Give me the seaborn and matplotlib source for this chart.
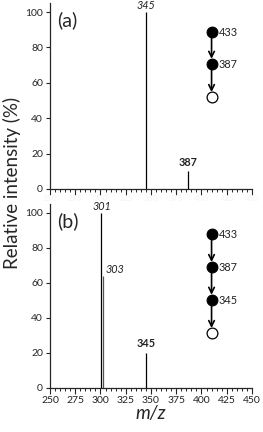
import matplotlib
matplotlib.use("Agg")
import matplotlib.pyplot as plt
import seaborn as sns
import numpy as np
import pandas as pd
from matplotlib.ticker import MultipleLocator

# ---- data ----
mz_a = [345, 387]
int_a = [100, 10]
lab_a = ["345", "387"]
style_a = ["italic", "bold"]

mz_b = [301, 303, 345]
int_b = [100, 64, 20]
lab_b = ["301", "303", "345"]
style_b = ["italic", "italic", "bold"]

tree_a_y = [88.7, 70.6, 51.8]
tree_a_fill = [True, True, False]
tree_a_lab = ["433", "387", ""]

tree_b_y = [87.7, 68.8, 50.1, 31.1]
tree_b_fill = [True, True, True, False]
tree_b_lab = ["433", "387", "345", ""]

tree_x = 410
xticks = [250, 275, 300, 325, 350, 375, 400, 425, 450]
yticks = [0, 20, 40, 60, 80, 100]

sns.set_style("ticks")
plt.rcParams['font.family'] = ['Lato', 'DejaVu Sans']

fig = plt.figure(figsize=(2.63, 4.32), dpi=100)
ax1 = fig.add_axes([0.190, 0.5625, 0.768, 0.430])
ax2 = fig.add_axes([0.190, 0.1025, 0.768, 0.4255])


def draw(ax, mz, inten, labs, styles, ty, tfill, tlab, panel, xlab_color, peak_colors):
    ax.vlines(mz, 0, inten, colors=peak_colors, linewidth=0.9)
    for m, v, l, s in zip(mz, inten, labs, styles):
        kw = dict(fontsize=7.8, va='bottom', color='#222222')
        if l == "303":
            ax.text(m + 1.5, v + 0.5, l, ha='left', fontstyle='italic', **kw)
        elif s == 'bold':
            ax.text(m, v + 2, l, ha='center', fontweight='bold', **kw)
        else:
            ax.text(m, v + 0.5, l, ha='center', fontstyle='italic', **kw)
    df = pd.DataFrame({"x": [tree_x] * len(ty), "y": ty, "fill": tfill})
    for i in range(len(ty) - 1):
        ax.annotate("", xy=(tree_x, ty[i + 1] + 3.0), xytext=(tree_x, ty[i] - 3.0),
                    arrowprops=dict(arrowstyle='->', color='black', lw=1.2,
                                    mutation_scale=10, shrinkA=0, shrinkB=0))
    sns.scatterplot(data=df[df["fill"]], x="x", y="y", ax=ax, s=60, color='black',
                    edgecolor='black', linewidth=0.8, legend=False, zorder=3)
    sns.scatterplot(data=df[~df["fill"]], x="x", y="y", ax=ax, s=60, color='white',
                    edgecolor='black', linewidth=0.9, legend=False, zorder=3)
    for y, l in zip(ty, tlab):
        if l:
            ax.text(tree_x + 7, y, l, fontsize=7.8, va='center', ha='left', color='#222222')
    ax.text(0.035, 0.955, panel, transform=ax.transAxes, fontsize=14, va='top', ha='left')
    ax.set_xlim(250, 450)
    ax.set_ylim(0, 105)
    ax.set_xticks(xticks)
    ax.set_yticks(yticks)
    ax.xaxis.set_minor_locator(MultipleLocator(5))
    ax.tick_params(axis='x', which='major', length=4, width=0.8, labelsize=7.5,
                   labelcolor=xlab_color, pad=2)
    ax.tick_params(axis='x', which='minor', length=2.5, width=0.7)
    ax.tick_params(axis='y', which='major', length=3, width=0.8, labelsize=7.5, pad=2)
    for sp in ['top', 'right']:
        ax.spines[sp].set_visible(False)
    for sp in ['left', 'bottom']:
        ax.spines[sp].set_linewidth(0.9)
    ax.set_xlabel("")
    ax.set_ylabel("")


draw(ax1, mz_a, int_a, lab_a, style_a, tree_a_y, tree_a_fill, tree_a_lab, "(a)",
     '#f4f4f4', ['black', 'black'])
draw(ax2, mz_b, int_b, lab_b, style_b, tree_b_y, tree_b_fill, tree_b_lab, "(b)",
     '#222222', ['black', '#555555', 'black'])
ax1.tick_params(axis='x', which='major', labelsize=6, pad=0.5)

fig.text(0.045, 0.576, "Relative intensity (%)", rotation=90, fontsize=13.5,
         va='center', ha='center')
ax2.set_xlabel("m/z", fontsize=13.5, fontstyle='italic', labelpad=0)

fig.savefig("out.png", dpi=100)
